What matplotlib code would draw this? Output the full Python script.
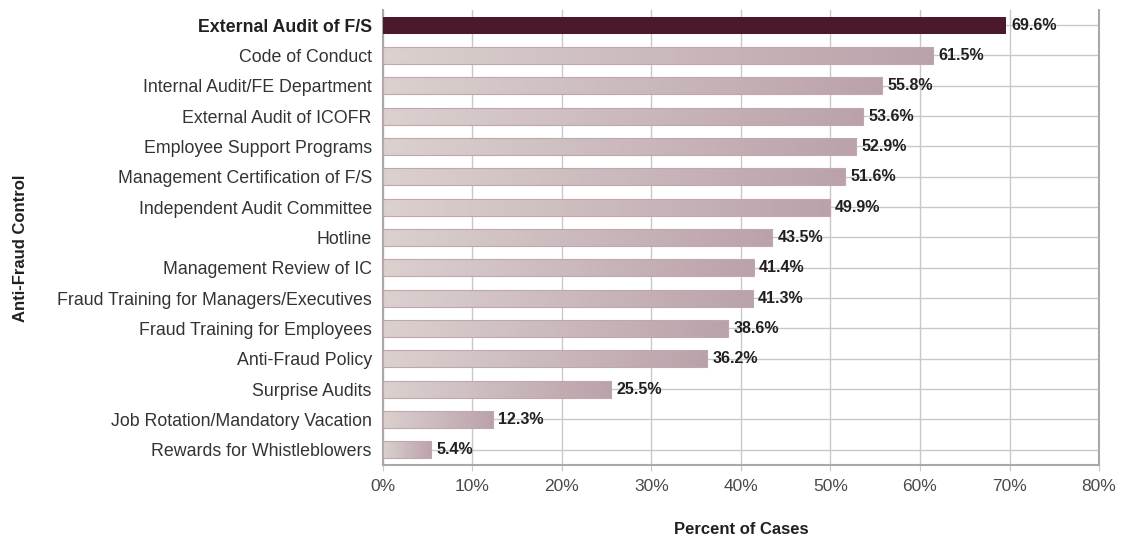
import numpy as np
import matplotlib.pyplot as plt
from matplotlib.colors import LinearSegmentedColormap

controls = [
    "External Audit of F/S",
    "Code of Conduct",
    "Internal Audit/FE Department",
    "External Audit of ICOFR",
    "Employee Support Programs",
    "Management Certification of F/S",
    "Independent Audit Committee",
    "Hotline",
    "Management Review of IC",
    "Fraud Training for Managers/Executives",
    "Fraud Training for Employees",
    "Anti-Fraud Policy",
    "Surprise Audits",
    "Job Rotation/Mandatory Vacation",
    "Rewards for Whistleblowers",
]
percent = [69.6, 61.5, 55.8, 53.6, 52.9, 51.6, 49.9, 43.5, 41.4, 41.3,
           38.6, 36.2, 25.5, 12.3, 5.4]
x_ticks = [0, 10, 20, 30, 40, 50, 60, 70, 80]

plt.rcParams["font.family"] = ["Liberation Sans", "DejaVu Sans"]

fig = plt.figure(figsize=(11.25, 5.4), dpi=100)
ax = fig.add_axes([0.3404, 0.139, 0.6365, 0.8425])

grid_col = "#c8c8c8"
bar_h = 0.56
grad = LinearSegmentedColormap.from_list("bar", ["#dbd1cf", "#bba2aa"])
ramp = np.linspace(0, 1, 256).reshape(1, -1)

y = np.arange(len(controls))
ax.hlines(y, 0, 80, color=grid_col, lw=1, zorder=1)

for i, v in enumerate(percent):
    if i == 0:
        ax.barh(i, v, height=bar_h, color="#4a1a2c", zorder=3)
    else:
        # gradient fill stretched over each bar's own length
        ax.imshow(ramp, cmap=grad, aspect="auto", zorder=3,
                  extent=(0, v, i + bar_h / 2, i - bar_h / 2))
        ax.barh(i, v, height=bar_h, facecolor="none", edgecolor="#c2a6ae",
                lw=0.8, zorder=4)
    ax.text(v + 0.6, i, f"{v}%", va="center", ha="left", fontsize=11.5,
            fontweight="bold", color="#231f20", zorder=5)

ax.set_xlim(0, 80)
ax.set_ylim(len(controls) - 0.5, -0.5)
ax.set_xticks(x_ticks)
ax.set_xticklabels([f"{t}%" for t in x_ticks])
ax.set_yticks(y)
ax.set_yticklabels(controls)
ax.tick_params(axis="y", length=0, pad=8, labelsize=12.8, labelcolor="#333333")
ax.tick_params(axis="x", length=4, color=grid_col, pad=6, labelsize=12.5,
               labelcolor="#4a4a4a")
ax.get_yticklabels()[0].set_fontweight("bold")
ax.get_yticklabels()[0].set_color("#231f20")

ax.grid(axis="x", color=grid_col, lw=1, zorder=0)
ax.set_axisbelow(True)
ax.spines["top"].set_visible(False)
for side in ["left", "bottom", "right"]:
    ax.spines[side].set_color("#a8a8a8")
    ax.spines[side].set_linewidth(1.5)

fig.text(0.659, 0.019, "Percent of Cases", fontsize=12, fontweight="bold",
         color="#231f20", ha="center", va="center")
fig.text(0.018, 0.54, "Anti-Fraud Control", rotation=90, fontsize=12,
         fontweight="bold", color="#231f20", ha="center", va="center")

fig.savefig("out.png", dpi=100)
